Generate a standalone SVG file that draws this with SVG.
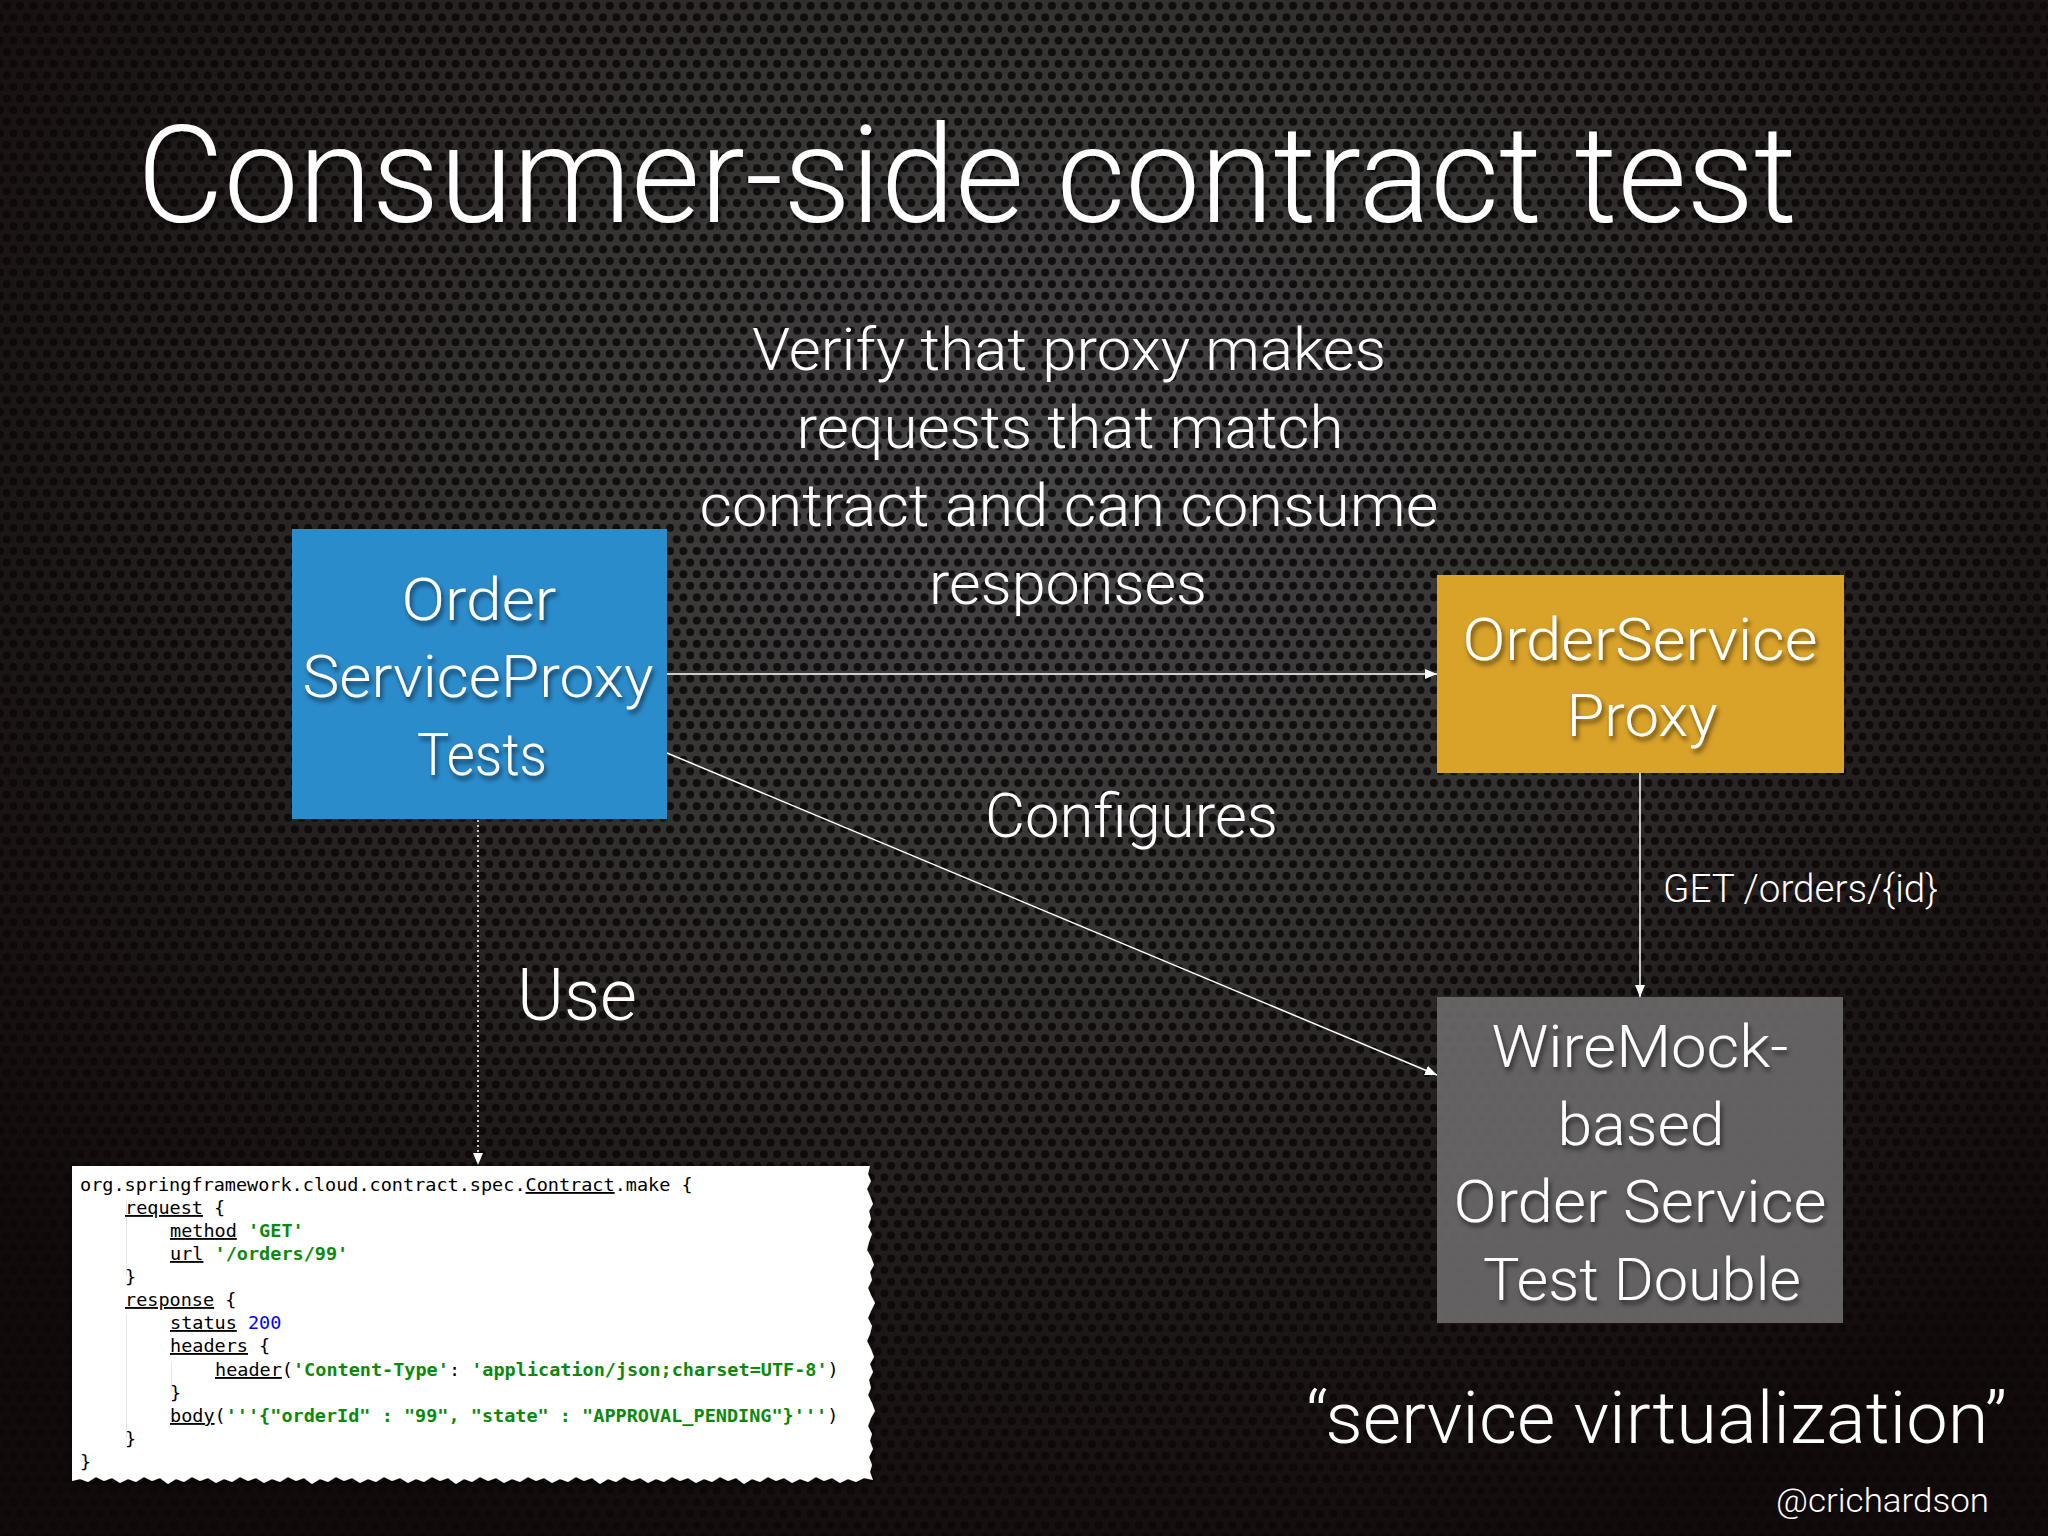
<svg xmlns="http://www.w3.org/2000/svg" width="2048" height="1536" viewBox="0 0 2048 1536">
  <defs>
    <pattern id="mesh" width="13.4" height="23.2" patternUnits="userSpaceOnUse">
      <rect width="13.4" height="23.2" fill="#555555"/>
      <g fill="#121212" stroke="#6a6a6a" stroke-width="0.8">
        <circle cx="6.7" cy="5.8" r="4.7"/>
        <circle cx="0" cy="17.4" r="4.7"/>
        <circle cx="13.4" cy="17.4" r="4.7"/>
      </g>
    </pattern>
    <radialGradient id="vignette" cx="1050" cy="480" r="1350" gradientUnits="userSpaceOnUse" gradientTransform="translate(1050 480) scale(1 0.85) translate(-1050 -480)">
      <stop offset="0" stop-color="#0e0707" stop-opacity="0.2"/>
      <stop offset="0.4" stop-color="#0e0707" stop-opacity="0.45"/>
      <stop offset="0.75" stop-color="#0e0707" stop-opacity="0.8"/>
      <stop offset="1" stop-color="#0e0707" stop-opacity="0.95"/>
    </radialGradient>
    <filter id="tshadow" x="-10%" y="-30%" width="120%" height="160%">
      <feDropShadow dx="2" dy="4" stdDeviation="2.5" flood-color="#000" flood-opacity="0.6"/>
    </filter>
    <filter id="bshadow" x="-5%" y="-5%" width="110%" height="115%">
      <feDropShadow dx="0" dy="3" stdDeviation="4" flood-color="#000" flood-opacity="0.7"/>
    </filter>
    <marker id="arr" markerWidth="12" markerHeight="10" refX="12" refY="5" orient="auto" markerUnits="userSpaceOnUse">
      <path d="M0,0 L12,5 L0,10 z" fill="#ffffff"/>
    </marker>
    <style>
      .t { font-family: "Helvetica Neue", Roboto, "Liberation Sans", sans-serif; font-weight: 300; fill: #ffffff; }
      .node { font-size: 60px; text-anchor: middle; }
      .code { font-family: "DejaVu Sans Mono", "Liberation Mono", monospace; font-size: 18.5px; fill: #000000; }
      .s { fill: #0a8a0a; font-weight: bold; }
      .n { fill: #0000ff; }
      .u { text-decoration: underline; }
      .conn { stroke: #ffffff; stroke-width: 1.5; fill: none; }
    </style>
  </defs>

  <!-- background -->
  <rect width="2048" height="1536" fill="url(#mesh)"/>
  <rect width="2048" height="1536" fill="url(#vignette)"/>

  <!-- title -->
  <text class="t" x="137" y="222" font-size="136" textLength="1660" lengthAdjust="spacingAndGlyphs" filter="url(#tshadow)">Consumer-side contract test</text>

  <!-- description -->
  <g id="description" class="t" font-size="60" text-anchor="middle">
    <text x="1069" y="370" textLength="634" lengthAdjust="spacingAndGlyphs">Verify that proxy makes</text>
    <text x="1070" y="448" textLength="547" lengthAdjust="spacingAndGlyphs">requests that match</text>
    <text x="1069" y="526" textLength="739" lengthAdjust="spacingAndGlyphs">contract and can consume</text>
    <text x="1068" y="604" textLength="278" lengthAdjust="spacingAndGlyphs">responses</text>
  </g>

  <!-- connectors -->
  <g id="connectors">
    <line class="conn" x1="667" y1="674" x2="1437" y2="674" marker-end="url(#arr)"/>
    <line class="conn" x1="667" y1="753" x2="1437" y2="1075" marker-end="url(#arr)"/>
    <line class="conn" x1="1640" y1="773" x2="1640" y2="997" marker-end="url(#arr)"/>
    <line class="conn" x1="478" y1="820" x2="478" y2="1165" stroke-dasharray="2 3" marker-end="url(#arr)"/>
    <text class="t" x="985" y="837" font-size="61" textLength="293" lengthAdjust="spacingAndGlyphs">Configures</text>
    <text class="t" x="1663" y="902" font-size="38" textLength="275" lengthAdjust="spacingAndGlyphs">GET /orders/{id}</text>
    <text class="t" x="517" y="1020" font-size="72" textLength="120" lengthAdjust="spacingAndGlyphs">Use</text>
  </g>

  <!-- nodes -->
  <g id="tests">
    <rect x="292" y="529" width="375" height="290" fill="#2b8ccc"/>
    <g class="t node" filter="url(#tshadow)">
      <text x="479" y="620" textLength="155" lengthAdjust="spacingAndGlyphs">Order</text>
      <text x="478" y="697" textLength="351" lengthAdjust="spacingAndGlyphs">ServiceProxy</text>
      <text x="482" y="775" textLength="130" lengthAdjust="spacingAndGlyphs">Tests</text>
    </g>
  </g>

  <g id="proxy">
    <rect x="1437" y="575" width="407" height="198" fill="#d9a229"/>
    <g class="t node" filter="url(#tshadow)">
      <text x="1640" y="660" textLength="355" lengthAdjust="spacingAndGlyphs">OrderService</text>
      <text x="1642" y="736" textLength="151" lengthAdjust="spacingAndGlyphs">Proxy</text>
    </g>
  </g>

  <g id="testdouble">
    <rect x="1437" y="997" width="406" height="326" fill="#6a6869" fill-opacity="0.92"/>
    <g class="t node" filter="url(#tshadow)">
      <text x="1640" y="1067" textLength="297" lengthAdjust="spacingAndGlyphs">WireMock-</text>
      <text x="1641" y="1145" textLength="167" lengthAdjust="spacingAndGlyphs">based</text>
      <text x="1640" y="1222" textLength="373" lengthAdjust="spacingAndGlyphs">Order Service</text>
      <text x="1642" y="1300" textLength="318" lengthAdjust="spacingAndGlyphs">Test Double</text>
    </g>
  </g>

  <g id="contract">
    <path filter="url(#bshadow)" fill="#ffffff" d="M72,1166 L870,1166 L868,1174 L871,1181 L867,1189 L870,1196 L873,1204 L869,1211 L871,1219 L868,1227 L872,1234 L869,1242 L867,1250 L871,1257 L874,1265 L870,1272 L872,1280 L868,1288 L871,1295 L875,1303 L871,1311 L868,1318 L872,1326 L870,1334 L867,1341 L871,1349 L874,1357 L870,1364 L873,1372 L869,1380 L871,1388 L868,1395 L872,1403 L875,1411 L871,1418 L868,1426 L872,1434 L870,1441 L873,1449 L869,1457 L872,1465 L870,1472 L873,1480 L864,1478 L856,1482 L848,1479 L840,1483 L832,1478 L824,1481 L816,1477 L808,1482 L800,1479 L792,1483 L784,1478 L776,1481 L768,1477 L760,1482 L752,1479 L744,1484 L736,1478 L728,1481 L720,1477 L712,1482 L704,1479 L696,1483 L688,1478 L680,1481 L672,1477 L664,1482 L656,1479 L648,1483 L640,1478 L632,1481 L624,1477 L616,1482 L608,1479 L600,1484 L592,1478 L584,1481 L576,1477 L568,1482 L560,1479 L552,1483 L544,1478 L536,1481 L528,1477 L520,1482 L512,1479 L504,1483 L496,1478 L488,1481 L480,1477 L472,1482 L464,1479 L456,1484 L448,1478 L440,1481 L432,1477 L424,1482 L416,1479 L408,1483 L400,1478 L392,1481 L384,1477 L376,1482 L368,1479 L360,1483 L352,1478 L344,1481 L336,1477 L328,1482 L320,1479 L312,1484 L304,1478 L296,1481 L288,1477 L280,1482 L272,1479 L264,1483 L256,1478 L248,1481 L240,1477 L232,1482 L224,1479 L216,1483 L208,1478 L200,1481 L192,1477 L184,1482 L176,1479 L168,1484 L160,1478 L152,1481 L144,1477 L136,1482 L128,1479 L120,1483 L112,1478 L104,1481 L96,1477 L88,1482 L80,1479 L72,1481 Z"/>
    <g stroke="#e6e6e6" stroke-width="1">
      <line x1="126.5" y1="1200" x2="126.5" y2="1276"/>
      <line x1="126.5" y1="1314" x2="126.5" y2="1438"/>
      <line x1="171.5" y1="1362" x2="171.5" y2="1392"/>
    </g>
    <g class="code" xml:space="preserve">
      <text x="80" y="1191">org.springframework.cloud.contract.spec.<tspan class="u">Contract</tspan>.make {</text>
      <text x="125" y="1214"><tspan class="u">request</tspan> {</text>
      <text x="170" y="1237"><tspan class="u">method</tspan> <tspan class="s">'GET'</tspan></text>
      <text x="170" y="1260"><tspan class="u">url</tspan> <tspan class="s">'/orders/99'</tspan></text>
      <text x="125" y="1283">}</text>
      <text x="125" y="1306"><tspan class="u">response</tspan> {</text>
      <text x="170" y="1329"><tspan class="u">status</tspan> <tspan class="n">200</tspan></text>
      <text x="170" y="1352"><tspan class="u">headers</tspan> {</text>
      <text x="215" y="1376"><tspan class="u">header</tspan>(<tspan class="s">'Content-Type'</tspan>: <tspan class="s">'application/json;charset=UTF-8'</tspan>)</text>
      <text x="170" y="1399">}</text>
      <text x="170" y="1422"><tspan class="u">body</tspan>(<tspan class="s">'''{"orderId" : "99", "state" : "APPROVAL_PENDING"}'''</tspan>)</text>
      <text x="125" y="1445">}</text>
      <text x="80" y="1468">}</text>
    </g>
  </g>

  <!-- footer -->
  <text class="t" x="1306" y="1443" font-size="72" textLength="701" lengthAdjust="spacingAndGlyphs">“service virtualization”</text>
  <text class="t" x="1776" y="1512" font-size="34" textLength="213" lengthAdjust="spacingAndGlyphs">@crichardson</text>
</svg>
